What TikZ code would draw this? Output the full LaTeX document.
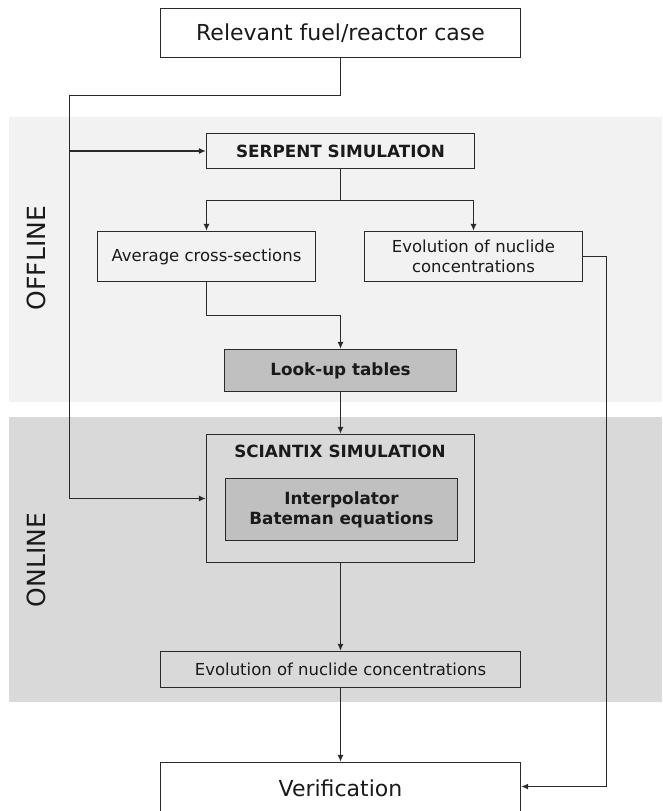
\documentclass[tikz,border=0pt]{standalone}
\usepackage{fontspec}
\setmainfont{DejaVu Sans}
\usetikzlibrary{arrows.meta}
\definecolor{bandoff}{HTML}{F2F2F2}
\definecolor{bandon}{HTML}{D9D9D9}
\definecolor{boxdark}{HTML}{C0C0C0}
\definecolor{linec}{HTML}{2A2A2A}
\definecolor{textc}{HTML}{1A1A1A}
\begin{document}
\begin{tikzpicture}[x=1pt,y=-1pt,
  box/.style={draw=linec, line width=1.3pt, rectangle, inner sep=0pt, align=center, text=textc},
  conn/.style={draw=linec, line width=1.3pt},
  arr/.style={conn, -{Latex[length=7pt,width=6pt]}},
  bigtxt/.style={font=\fontsize{22}{24}\selectfont},
  midtxt/.style={font=\fontsize{16.5}{19.6}\selectfont},
  boldtxt/.style={font=\fontsize{16.8}{20}\selectfont\bfseries},
  bandlbl/.style={font=\fontsize{25}{27}\selectfont, text=textc, rotate=90}
]
\useasboundingbox (0,0) rectangle (662,811);
\fill[white] (0,0) rectangle (662,811);
% bands
\fill[bandoff] (9.3,116.7) rectangle (662,401.7);
\fill[bandon] (9.3,417.3) rectangle (662,701.7);
\node[bandlbl] (offl) at (36,258) {OFFLINE};
\node[bandlbl] (onl) at (36,560) {ONLINE};
% nodes
\node[box, fill=white, bigtxt, minimum width=360pt, minimum height=49pt] (top) at (340.5,33) {Relevant fuel/reactor case};
\node[box, fill=bandoff, boldtxt, minimum width=268pt, minimum height=35pt] (serp) at (340.5,151) {SERPENT SIMULATION};
\node[box, fill=bandoff, midtxt, minimum width=218pt, minimum height=50pt] (avg) at (206.5,256.5) {Average cross-sections};
\node[box, fill=bandoff, midtxt, minimum width=218pt, minimum height=50pt] (evoa) at (473.5,256.5) {Evolution of nuclide\\concentrations};
\node[box, fill=boxdark, boldtxt, minimum width=232pt, minimum height=42pt] (lut) at (340.5,370.5) {Look-up tables};
\node[box, fill=bandon, minimum width=268pt, minimum height=128pt] (sci) at (340.5,498.5) {};
\node[boldtxt, text=textc, anchor=center] (scit) at (340,451) {SCIANTIX SIMULATION};
\node[box, fill=boxdark, boldtxt, minimum width=232pt, minimum height=62pt] (inner) at (341.5,509.5) {Interpolator\\Bateman equations};
\node[box, fill=bandon, midtxt, minimum width=360pt, minimum height=36pt] (evob) at (340.5,669.5) {Evolution of nuclide concentrations};
\node[box, fill=white, bigtxt, minimum width=360pt, minimum height=51pt] (ver) at (340.5,788) {Verification};
% coordinates
\coordinate (j1) at (69.5,95.5);
\coordinate (split) at (340.5,200.5);
\coordinate (j2) at (206.5,315.5);
\coordinate (rr) at (606.5,786.5);
% connectors
\draw[conn] (top.south) |- (j1) -- (j1 |- sci.west);
\draw[arr] (j1 |- serp.west) -- (serp.west);
\draw[arr] (j1 |- sci.west) -- (sci.west);
\draw[conn] (serp.south) -- (split);
\draw[arr] (split) -| (avg.north);
\draw[arr] (split) -| (evoa.north);
\draw[conn] (avg.south) -- (j2);
\draw[arr] (j2) -| (lut.north);
\draw[arr] (lut.south) -- (sci.north);
\draw[arr] (sci.south) -- (evob.north);
\draw[arr] (evob.south) -- (ver.north);
\draw[arr] (evoa.east) -| (rr) -- (rr -| ver.east);
\end{tikzpicture}
\end{document}
